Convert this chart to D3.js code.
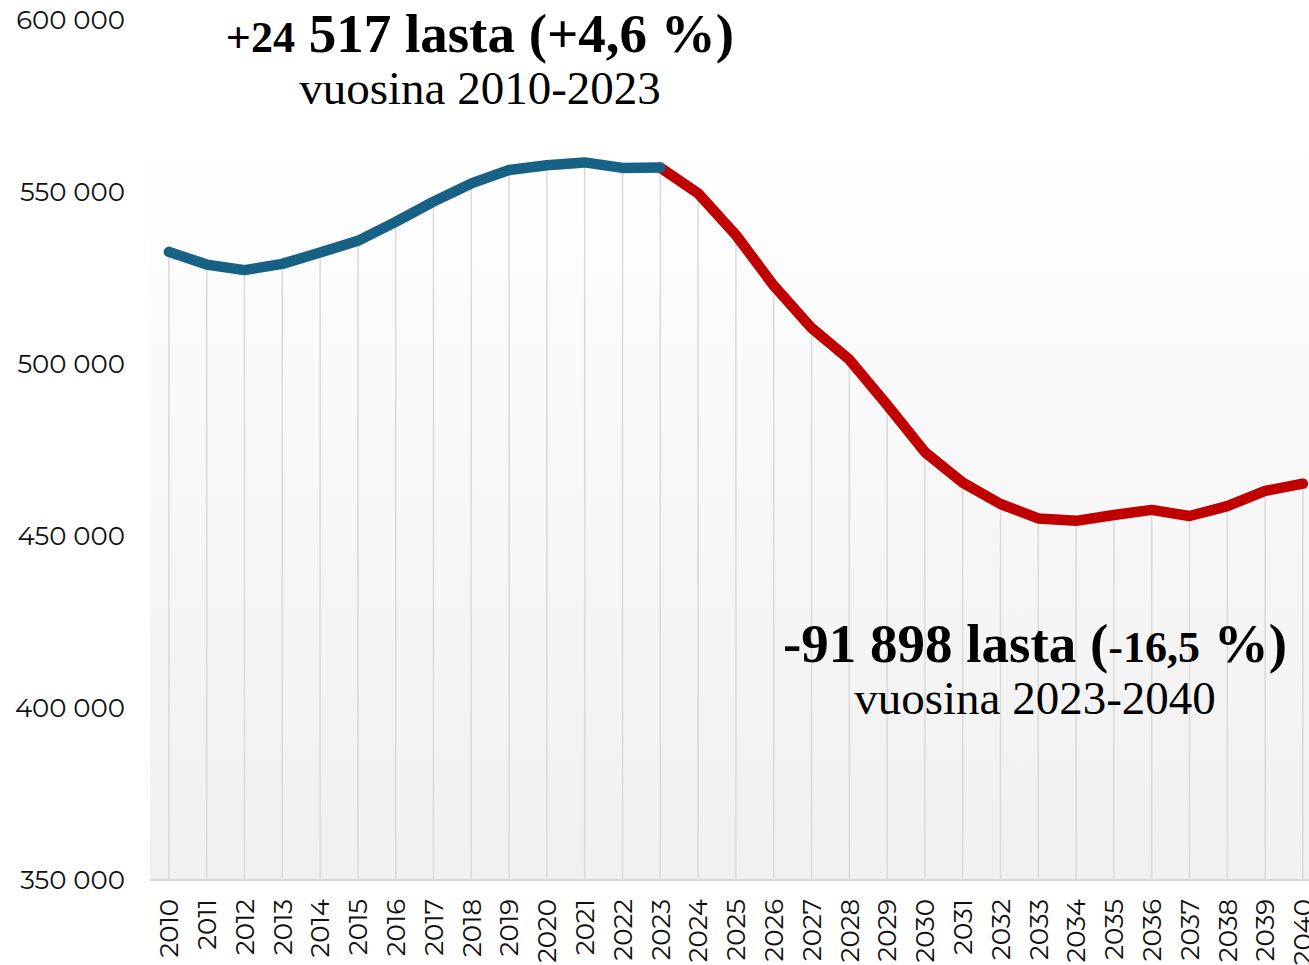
<!DOCTYPE html>
<html>
<head>
<meta charset="utf-8">
<script src="https://cdn.jsdelivr.net/npm/d3@7"></script>
<style>
  body { margin: 0; background: #fff; }
  svg { display: block; }
</style>
</head>
<body>
<div id="chart"></div>
<script>
// data
const years = d3.range(2010, 2041).map(String);
const children = [
  532600, 528900, 527300, 529100, 532400, 535800, 541300, 547200, 552500, 556400,
  557800, 558600, 557000, 557100, 549600, 537500, 522800, 510500, 501300, 488100,
  474400, 465500, 459300, 455100, 454400, 456100, 457600, 455800, 458700, 463100,
  465200
];
const yTicks = [350000, 400000, 450000, 500000, 550000, 600000];
const splitYear = "2023";

const notes = [
  { parts: [["+24", true], [" 517 lasta (+4,6 %)", false]], sub: "vuosina 2010-2023", x: 480, y: 52 },
  { parts: [["-91 898 lasta (", false], ["-16,5", true], [" %)", false]], sub: "vuosina 2023-2040", x: 1035, y: 662 }
];

const data = years.map((yr, i) => ({ year: yr, value: children[i] }));
const past = data.filter(d => +d.year <= +splitYear);
const future = data.filter(d => +d.year >= +splitYear);

const width = 1309, height = 965;
const plot = { left: 150, top: 20, bottom: 880, step: 37.8 };

const svg = d3.select("#chart").append("svg")
  .attr("width", width)
  .attr("height", height);

const defs = svg.append("defs");
const grad = defs.append("linearGradient")
  .attr("id", "bg")
  .attr("x1", 0).attr("y1", 0).attr("x2", 0).attr("y2", 1);
grad.append("stop").attr("offset", "0.12").attr("stop-color", "#ffffff");
grad.append("stop").attr("offset", "1").attr("stop-color", "#f0f0f0");

// scales
const x = d3.scaleBand()
  .domain(years)
  .range([plot.left, plot.left + years.length * plot.step]);
const cx = d => x(d) + x.bandwidth() / 2;

const y = d3.scaleLinear()
  .domain([350000, 600000])
  .range([plot.bottom, plot.top]);

// plot background
svg.append("rect")
  .attr("x", plot.left)
  .attr("y", plot.top)
  .attr("width", width - plot.left)
  .attr("height", plot.bottom - plot.top)
  .attr("fill", "url(#bg)");

// drop lines
svg.append("g")
  .selectAll("line")
  .data(data)
  .join("line")
    .attr("x1", d => cx(d.year))
    .attr("x2", d => cx(d.year))
    .attr("y1", d => y(d.value))
    .attr("y2", plot.bottom)
    .attr("stroke", "#d9d9d9")
    .attr("stroke-width", 1.5);

// x axis
const xAxis = svg.append("g")
  .attr("transform", "translate(0," + plot.bottom + ")")
  .call(d3.axisBottom(x).tickSize(0).tickPadding(0));
xAxis.select(".domain")
  .attr("d", "M" + plot.left + ",0H" + width)
  .attr("stroke", "#d9d9d9")
  .attr("stroke-width", 2);
xAxis.selectAll("text")
  .attr("transform", "rotate(-90)")
  .attr("x", -19)
  .attr("y", 0)
  .attr("dy", "0.36em")
  .attr("text-anchor", "end")
  .attr("fill", "#111")
  .style("font-family", "Montserrat, 'Noto Sans', sans-serif")
  .style("font-weight", 400)
  .style("font-size", "26px");

// y axis
const fmt = d3.formatLocale({ decimal: ",", thousands: " ", grouping: [3], currency: ["", ""] }).format(",d");
const yAxis = svg.append("g")
  .attr("transform", "translate(125,0)")
  .call(d3.axisLeft(y).tickValues(yTicks).tickFormat(fmt).tickSize(0).tickPadding(0));
yAxis.select(".domain").remove();
yAxis.selectAll("text")
  .attr("fill", "#111")
  .style("font-family", "Montserrat, 'Noto Sans', sans-serif")
  .style("font-weight", 400)
  .style("font-size", "26px");

// lines
const line = d3.line()
  .x(d => cx(d.year))
  .y(d => y(d.value));

svg.append("path")
  .datum(future)
  .attr("fill", "none")
  .attr("stroke", "#c00000")
  .attr("stroke-width", 10.5)
  .attr("stroke-linecap", "round")
  .attr("stroke-linejoin", "round")
  .attr("d", line);

svg.append("path")
  .datum(past)
  .attr("fill", "none")
  .attr("stroke", "#176185")
  .attr("stroke-width", 10.5)
  .attr("stroke-linecap", "round")
  .attr("stroke-linejoin", "round")
  .attr("d", line);

// annotations
notes.forEach(n => {
  const t = svg.append("text")
    .attr("x", n.x)
    .attr("y", n.y)
    .attr("text-anchor", "middle")
    .style("font-family", "Georgia, 'Liberation Serif', serif")
    .style("font-weight", 700)
    .style("font-size", "55px")
    .attr("fill", "#000");
  n.parts.forEach(([s, small]) => {
    t.append("tspan").style("font-size", small ? "44px" : null).text(s);
  });
  svg.append("text")
    .attr("x", n.x)
    .attr("y", n.y + 52)
    .attr("text-anchor", "middle")
    .style("font-family", "Georgia, 'Liberation Serif', serif")
    .style("font-size", "47px")
    .attr("fill", "#000")
    .text(n.sub);
});
</script>
</body>
</html>
